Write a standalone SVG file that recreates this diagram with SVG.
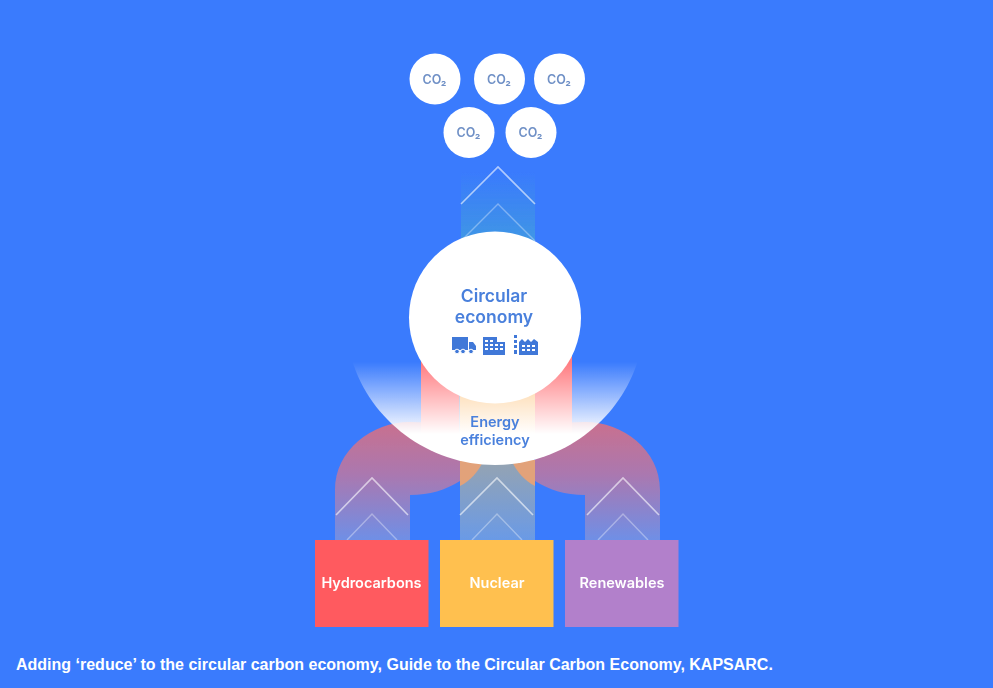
<svg xmlns="http://www.w3.org/2000/svg" width="993" height="688" viewBox="0 0 993 688">
<style>
text{font-family:Inter,"Liberation Sans","Noto Sans",sans-serif;text-anchor:middle}
.co{font-size:12.5px;font-weight:600;fill:#6f90c6}
.bub{fill:#fff}
.lab{font-size:14.5px;font-weight:600;fill:#fff}
.blue{font-weight:600;fill:#4a80dc}
.chev{fill:none;stroke:#fff;stroke-width:1.6;stroke-opacity:.6}
.chev2{fill:none;stroke:#fff;stroke-width:1.4;stroke-opacity:.34}
.ico{fill:#3f78d8}
.cap{font-family:"Liberation Sans",Arial,sans-serif;font-size:16px;font-weight:700;fill:#fff;text-anchor:start}
</style>
<defs>
<linearGradient id="gArm" gradientUnits="userSpaceOnUse" x1="0" y1="422" x2="0" y2="540"><stop offset="0" stop-color="#c9708e"/><stop offset=".45" stop-color="#aa78b0"/><stop offset="1" stop-color="#6f8fe6"/></linearGradient>
<linearGradient id="gMid" gradientUnits="userSpaceOnUse" x1="0" y1="465" x2="0" y2="540"><stop offset="0" stop-color="#93a3b4"/><stop offset="1" stop-color="#6a9ae6"/></linearGradient>
<linearGradient id="gTop" gradientUnits="userSpaceOnUse" x1="0" y1="172" x2="0" y2="240"><stop offset="0" stop-color="#3f92e6" stop-opacity="0"/><stop offset=".5" stop-color="#3f92e6" stop-opacity=".55"/><stop offset="1" stop-color="#4097e6"/></linearGradient>
<linearGradient id="gBowl" gradientUnits="userSpaceOnUse" x1="0" y1="362" x2="0" y2="434"><stop offset="0" stop-color="#fff" stop-opacity="0"/><stop offset="1" stop-color="#fff"/></linearGradient>
<filter id="soft" x="0" y="0" width="100%" height="100%"><feGaussianBlur stdDeviation=".45"/></filter>
</defs>
<rect id="background" width="993" height="688" fill="#3a7bfd"/>
<g filter="url(#soft)">
<g id="connectors">
<rect x="461" y="172" width="74" height="70" fill="url(#gTop)"/>
<path class="chev" d="M461 204L498 167L535 204"/>
<path class="chev2" d="M461 241L498 204L535 241"/>
<path fill="url(#gArm)" d="M335 540V490C335 450 372 422 410 422C430 422 445 425 460 432V481C445 490 430 495 410 495V540Z"/>
<path fill="url(#gArm)" d="M660 540V490C660 450 623 422 585 422C565 422 550 425 535 432V481C550 490 565 495 585 495V540Z"/>
<rect x="421" y="355" width="38" height="85" fill="#ff7b80"/>
<rect x="535" y="355" width="37" height="85" fill="#ff7b80"/>
<rect x="459.500" y="355" width="75.500" height="85" fill="#fdc98a"/>
<rect x="460" y="460" width="75" height="80" fill="url(#gMid)"/>
<path fill="#e2a27a" d="M460 460H484C478 472 470 481 460 486Z"/>
<path fill="#e2a27a" d="M535 460H511C517 472 525 481 535 486Z"/>
<path class="chev" d="M336 515L372 478L408 515"/>
<path class="chev2" d="M347 540L372 514L397 540"/>
<path class="chev" d="M460 515L497 478L533 515"/>
<path class="chev2" d="M472 540L497 514L522 540"/>
<path class="chev" d="M587 515L623 478L659 515"/>
<path class="chev2" d="M598 540L623 514L648 540"/>
</g>
<g id="energy-efficiency">
<path fill="url(#gBowl)" d="M352 360H638C620 420 562 465 495 465C428 465 370 420 352 360Z"/>
<text class="blue" x="495" y="427" font-size="14.500">Energy</text>
<text class="blue" x="495" y="445" font-size="14.500">efficiency</text>
</g>
<g id="circular-economy">
<circle cx="495" cy="317.500" r="86" fill="#fff"/>
<text class="blue" x="494" y="302" font-size="17.500">Circular</text>
<text class="blue" x="494" y="323" font-size="17.500">economy</text>
<path class="ico" d="M452 337H468V350H452ZM469 342H473L476 346V350H469Z"/>
<circle cx="457" cy="351.500" r="2.300" class="ico" stroke="#fff"/><circle cx="463" cy="351.500" r="2.300" class="ico" stroke="#fff"/><circle cx="471" cy="351.500" r="2.300" class="ico" stroke="#fff"/>
<path class="ico" fill-rule="evenodd" d="M483 337H497V342H505V355H483ZM485 340V342H488V340ZM490 340V342H493V340ZM485 344V346H488V344ZM490 344V346H493V344ZM495 344V346H498V344ZM500 344V346H503V344ZM485 348V350H488V348ZM490 348V350H493V348ZM495 348V350H498V348ZM500 348V350H503V348Z"/>
<path class="ico" d="M514 335h3v3h-3zM514 340h3v3h-3zM514 345h3v3h-3zM514 350h3v4h-3z"/>
<path class="ico" fill-rule="evenodd" d="M519 342L522 339L525 342L528 339L531 342L534 339L538 342V355H519ZM522 345V347H525V345ZM527 345V347H530V345ZM532 345V347H535V345ZM522 349V351H525V349ZM527 349V351H530V349ZM532 349V351H535V349Z"/>
</g>
<g id="co2-1"><circle class="bub" cx="435" cy="79" r="25.500"/><text class="co" x="434.500" y="84">CO₂</text></g>
<g id="co2-2"><circle class="bub" cx="499.500" cy="79" r="25.500"/><text class="co" x="499" y="84">CO₂</text></g>
<g id="co2-3"><circle class="bub" cx="559.500" cy="79" r="25.500"/><text class="co" x="559" y="84">CO₂</text></g>
<g id="co2-4"><circle class="bub" cx="469" cy="132.500" r="25.500"/><text class="co" x="468.500" y="137">CO₂</text></g>
<g id="co2-5"><circle class="bub" cx="531" cy="132.500" r="25.500"/><text class="co" x="530.500" y="137">CO₂</text></g>
<g id="hydrocarbons"><rect x="315" y="540" width="113.500" height="87" fill="#ff5a5e"/><text class="lab" x="371.500" y="588">Hydrocarbons</text></g>
<g id="nuclear"><rect x="440" y="540" width="113.500" height="87" fill="#ffc04f"/><text class="lab" x="497" y="588">Nuclear</text></g>
<g id="renewables"><rect x="565" y="540" width="113.500" height="87" fill="#b280cb"/><text class="lab" x="622" y="588">Renewables</text></g>
</g>
<text id="caption" class="cap" x="16" y="670">Adding ‘reduce’ to the circular carbon economy, Guide to the Circular Carbon Economy, KAPSARC.</text>
</svg>
